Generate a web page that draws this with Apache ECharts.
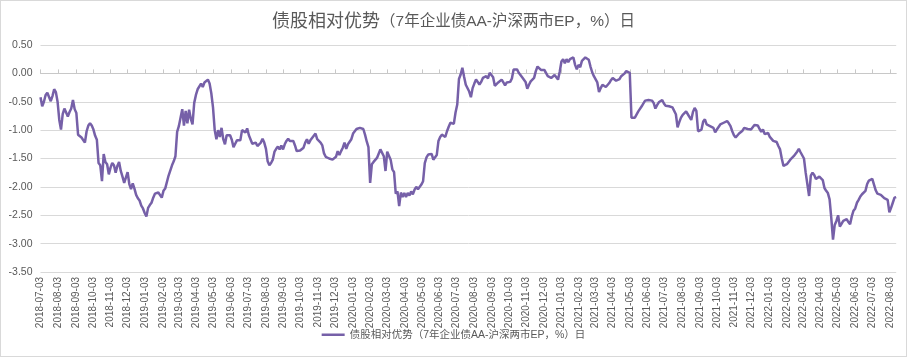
<!DOCTYPE html>
<html>
<head>
<meta charset="utf-8">
<script src="https://cdn.jsdelivr.net/npm/echarts@6/dist/echarts.min.js"></script>
<style>
  html, body { margin: 0; padding: 0; background: #ffffff; }
  #chart { width: 905px; height: 355px; border: 1px solid #d9d9d9; background: #ffffff; }
</style>
</head>
<body>
<div id="chart"></div>
<script>
// ---- Data ----
const seriesName = '债股相对优势（7年企业债AA-沪深两市EP，%）日';
const startDate = '2018-07-03';   // first observation
const stepDays = 3;               // spacing of the sampled observations (calendar days)

// x-axis tick labels (monthly)
const tickLabels = [
  '2018-07-03','2018-08-03','2018-09-03','2018-10-03','2018-11-03','2018-12-03',
  '2019-01-03','2019-02-03','2019-03-03','2019-04-03','2019-05-03','2019-06-03',
  '2019-07-03','2019-08-03','2019-09-03','2019-10-03','2019-11-03','2019-12-03',
  '2020-01-03','2020-02-03','2020-03-03','2020-04-03','2020-05-03','2020-06-03',
  '2020-07-03','2020-08-03','2020-09-03','2020-10-03','2020-11-03','2020-12-03',
  '2021-01-03','2021-02-03','2021-03-03','2021-04-03','2021-05-03','2021-06-03',
  '2021-07-03','2021-08-03','2021-09-03','2021-10-03','2021-11-03','2021-12-03',
  '2022-01-03','2022-02-03','2022-03-03','2022-04-03','2022-05-03','2022-06-03',
  '2022-07-03','2022-08-03'
];

// y-axis ticks
const yMin = -3.5, yMax = 0.5, yStep = 0.5;

// series values, one every 3 days from startDate
const seg1 = [
  -0.42,-0.58,-0.50,-0.38,-0.34,-0.35,-0.49,-0.40,-0.28,-0.33,
  -0.50,-0.82,-0.99,-0.72,-0.62,-0.63,-0.76,-0.68,-0.62,-0.47,
  -0.63,-0.70,-1.08,-1.10,-1.13,-1.11,-1.22,-1.02,-0.92,-0.88,
  -0.92,-0.99,-1.10,-1.17,-1.58,-1.62,-1.90,-1.42,-1.56,-1.60,
  -1.78,-1.66,-1.58,-1.62,-1.75,-1.63,-1.56,-1.72,-1.82,-1.93,
  -1.92,-1.74,-1.95,-2.04,-1.94,-2.03,-2.14,-2.20,-2.24,-2.33,
  -2.38,-2.46,-2.52,-2.37,-2.32,-2.28,-2.19,-2.12,-2.13,-2.10,
  -2.12,-2.19,-2.07,-2.03,-2.00,-1.80,-1.81,-1.62,-1.55,-1.46,
  -1.03,-0.93,-0.78,-0.63,-0.92,-0.66,-0.88,-0.64,-0.80,-0.90,
  -0.52,-0.38,-0.28,-0.27,-0.18,-0.24,-0.16,-0.13,-0.11,-0.18
];
const seg2 = [
  -0.35,-0.60,-1.00,-1.16,-1.00,-1.12,-0.96,-1.16,-1.25,-1.09,
  -1.12,-1.09,-1.17,-1.30,-1.24,-1.18,-1.16,-1.18,-1.00,-1.03,
  -1.04,-0.97,-1.09,-1.10,-1.24,-1.25,-1.22,-1.28,-1.26,-1.22,
  -1.15,-1.22,-1.33,-1.55,-1.62,-1.58,-1.52,-1.38,-1.33,-1.29,
  -1.34,-1.27,-1.34,-1.25,-1.19,-1.15,-1.19,-1.17,-1.19,-1.27,
  -1.37,-1.39,-1.36,-1.38,-1.31,-1.22,-1.16,-1.24,-1.18,-1.15,
  -1.10,-1.06,-1.16,-1.19,-1.22,-1.27,-1.41,-1.47,-1.44,-1.50,
  -1.49,-1.52,-1.49,-1.47,-1.37,-1.44,-1.37,-1.31,-1.22,-1.33,
  -1.25,-1.22,-1.16,-1.06,-1.02,-0.98,-1.00,-0.96,-0.99,-0.98,
  -1.08,-1.20,-1.30,-1.93,-1.60,-1.56,-1.56,-1.49,-1.46,-1.34
];
const seg3 = [
  -1.31,-1.46,-1.72,-1.38,-1.37,-1.52,-1.69,-1.74,-2.12,-2.08,
  -2.34,-2.10,-2.18,-2.11,-2.18,-2.11,-2.15,-2.08,-2.13,-2.05,
  -2.00,-2.04,-2.01,-1.96,-1.90,-1.58,-1.48,-1.43,-1.44,-1.42,
  -1.52,-1.50,-1.44,-1.19,-1.12,-1.08,-1.08,-1.12,-1.02,-0.94,
  -0.87,-0.87,-0.89,-0.69,-0.55,-0.10,-0.02,0.10,-0.06,-0.20,
  -0.22,-0.32,-0.42,-0.26,-0.18,-0.11,-0.15,-0.20,-0.15,-0.08,
  -0.11,-0.05,-0.09,0.01,-0.02,-0.07,-0.22,-0.19,-0.16,-0.13,
  -0.11,-0.16,-0.21,-0.16,-0.16,-0.15,-0.09,0.07,0.10,0.07,
  0.01,0.02,-0.07,-0.07,-0.15,-0.27,-0.20,-0.14,-0.12,-0.08,
  0.04,0.12,0.12,0.06,0.05,0.06,0.03,-0.05,-0.05,-0.08
];
const seg4 = [
  -0.05,-0.03,-0.06,-0.11,0.03,0.21,0.25,0.18,0.25,0.20,
  0.25,0.28,0.28,0.15,0.07,0.15,0.11,0.22,0.25,0.28,
  0.29,0.24,0.12,0.02,-0.05,-0.05,-0.16,-0.33,-0.26,-0.20,
  -0.20,-0.24,-0.25,-0.17,-0.12,-0.08,-0.09,-0.13,-0.14,-0.10,
  -0.05,-0.04,0.00,0.04,0.02,0.01,-0.78,-0.81,-0.78,-0.78,
  -0.67,-0.68,-0.58,-0.53,-0.48,-0.51,-0.47,-0.45,-0.48,-0.52,
  -0.62,-0.56,-0.51,-0.48,-0.47,-0.53,-0.57,-0.56,-0.58,-0.59,
  -0.60,-0.62,-0.72,-0.95,-0.86,-0.78,-0.73,-0.74,-0.67,-0.72,
  -0.77,-0.82,-0.68,-0.61,-0.66,-1.02,-1.05,-0.99,-0.85,-0.81,
  -0.90,-0.87,-0.93,-0.93,-0.96,-1.04,-0.99,-0.96,-0.90,-0.90
];
const seg5 = [
  -0.87,-0.84,-0.84,-0.88,-0.93,-1.02,-1.09,-1.13,-1.14,-1.06,
  -1.03,-1.01,-0.96,-0.94,-0.98,-0.98,-0.99,-0.97,-0.91,-0.90,
  -0.92,-0.98,-1.03,-0.99,-1.07,-1.04,-1.05,-1.12,-1.13,-1.19,
  -1.22,-1.21,-1.28,-1.34,-1.50,-1.63,-1.62,-1.60,-1.58,-1.52,
  -1.55,-1.46,-1.48,-1.38,-1.33,-1.39,-1.36,-1.50,-1.75,-1.73,
  -2.16,-1.80,-1.75,-1.79,-1.86,-1.88,-1.82,-1.83,-1.88,-2.02,
  -2.07,-2.11,-2.22,-2.55,-2.93,-2.67,-2.60,-2.50,-2.70,-2.65,
  -2.60,-2.62,-2.57,-2.62,-2.66,-2.52,-2.42,-2.38,-2.28,-2.23,
  -2.17,-2.13,-2.10,-2.07,-1.95,-1.89,-1.86,-1.86,-1.96,-2.06,
  -2.12,-2.10,-2.14,-2.16,-2.20,-2.20,-2.23,-2.45,-2.37,-2.28,
  -2.19,-2.18
];

// ---- Build ----
const values = [].concat(seg1, seg2, seg3, seg4, seg5);
const DAY = 86400000;
const t0 = Date.parse(startDate);
const seriesData = values.map((v, i) => [t0 + i * stepDays * DAY, v]);
const tMax = seriesData[seriesData.length - 1][0];
const tickTs = tickLabels.map(s => Date.parse(s));
const labelOf = {};
tickLabels.forEach((s, i) => { labelOf[tickTs[i]] = s; });

const FONT = "'Liberation Sans', 'Noto Sans CJK SC', sans-serif";
const TXT = '#595959';
const LINE = '#7660a8';

const chart = echarts.init(document.getElementById('chart'), null, { renderer: 'canvas' });
chart.setOption({
  animation: false,
  backgroundColor: '#ffffff',
  title: {
    text: '{a|债股相对优势}{b|（7年企业债AA-沪深两市EP，%）日}',
    left: 'center',
    top: 7,
    textStyle: {
      fontWeight: 'normal',
      rich: {
        a: { fontSize: 18, color: TXT, fontFamily: FONT, fontWeight: 'normal' },
        b: { fontSize: 15.5, color: TXT, fontFamily: FONT, fontWeight: 'normal' }
      }
    }
  },
  legend: {
    bottom: 11,
    left: 'center',
    icon: 'rect',
    itemWidth: 23,
    itemHeight: 2.5,
    itemGap: 6,
    textStyle: { color: TXT, fontSize: 10.5, fontFamily: FONT },
    data: [seriesName]
  },
  grid: { left: 39.5, right: 9.8, top: 44, bottom: 84, containLabel: false },
  xAxis: [
    {
      type: 'value',
      min: t0,
      max: tMax,
      axisLine: { show: false, onZero: false },
      axisTick: { show: false },
      splitLine: { show: false },
      axisLabel: {
        customValues: tickTs,
        rotate: 90,
        margin: 5,
        hideOverlap: false,
        showMinLabel: true,
        showMaxLabel: true,
        color: TXT,
        fontSize: 10,
        fontFamily: FONT,
        formatter: v => labelOf[v] || ''
      }
    },
    {
      type: 'value',
      min: t0,
      max: tMax,
      position: 'bottom',
      axisLine: { show: true, onZero: true, lineStyle: { color: '#c8c8c8', width: 1 } },
      axisTick: { show: true, inside: true, length: 4, customValues: tickTs, lineStyle: { color: '#c8c8c8' } },
      axisLabel: { show: false },
      splitLine: { show: false }
    }
  ],
  yAxis: {
    type: 'value',
    min: yMin,
    max: yMax,
    interval: yStep,
    axisLine: { show: false },
    axisTick: { show: false },
    splitLine: { lineStyle: { color: '#d9d9d9', width: 1 } },
    axisLabel: {
      color: TXT,
      fontSize: 10.5,
      fontFamily: FONT,
      margin: 8,
      formatter: v => v.toFixed(2)
    }
  },
  series: [{
    name: seriesName,
    type: 'line',
    xAxisIndex: 0,
    data: seriesData,
    showSymbol: false,
    symbol: 'none',
    lineStyle: { color: LINE, width: 2.5 },
    itemStyle: { color: LINE }
  }]
});
</script>
</body>
</html>
